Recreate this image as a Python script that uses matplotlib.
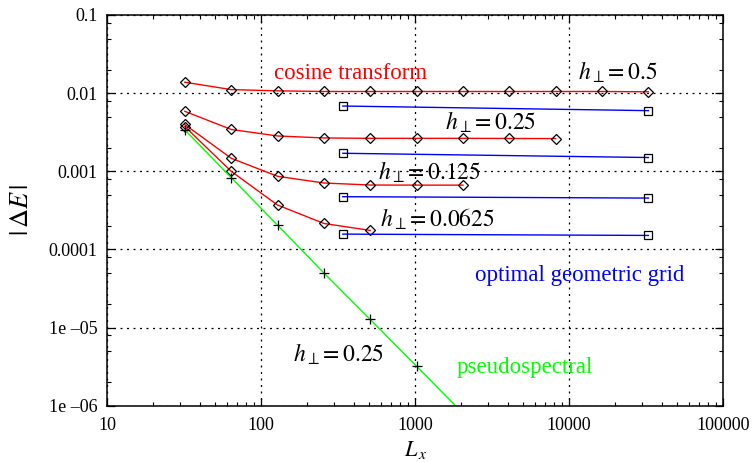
import numpy as np
import matplotlib
matplotlib.use("Agg")
import matplotlib.pyplot as plt
from matplotlib.ticker import FixedLocator, FixedFormatter, LogLocator, NullFormatter

plt.rcParams['font.family'] = ['Liberation Serif', 'DejaVu Serif']
plt.rcParams['mathtext.fontset'] = 'stix'

# ---- data ----
cos_x_05 = [32, 64, 128, 256, 512, 1024, 2048, 4096, 8192, 16384, 32768]
cos_y_05 = [0.0138, 0.0111, 0.0107, 0.0105, 0.0105, 0.0105, 0.0105, 0.0105, 0.0105, 0.0105, 0.0104]

cos_x_025 = [32, 64, 128, 256, 512, 1024, 2048, 4096, 8192]
cos_y_025 = [0.00586, 0.00343, 0.00283, 0.00267, 0.00264, 0.00264, 0.00264, 0.00263, 0.00262]

cos_x_0125 = [32, 64, 128, 256, 512, 1024, 2048]
cos_y_0125 = [0.00397, 0.00147, 0.000863, 0.000708, 0.000667, 0.000665, 0.000665]

cos_x_00625 = [32, 64, 128, 256, 512]
cos_y_00625 = [0.00374, 0.00100, 0.000370, 0.000215, 0.000175]

geo_x = [340, 32768]
geo_y_05 = [0.00684, 0.00597]
geo_y_025 = [0.00170, 0.00150]
geo_y_0125 = [0.000473, 0.000454]
geo_y_00625 = [0.000157, 0.000151]

ps_x = [32, 64, 128, 256, 512, 1024, 2048]
ps_y = [0.0034, 0.00083, 0.000205, 5.0e-5, 1.27e-5, 3.2e-6, 8.0e-7]

x_ticks = [10, 100, 1000, 10000, 100000]
x_ticklabels = ['10', '100', '1000', '10000', '100000']
y_ticks = [1e-6, 1e-5, 1e-4, 1e-3, 1e-2, 1e-1]
y_ticklabels = ['1e \u201306', '1e \u201305', '0.0001', '0.001', '0.01', '0.1']

# ---- figure ----
fig = plt.figure(figsize=(7.53, 4.62), dpi=100)
ax = fig.add_axes([107/753, 1-405.7/462, (723-107)/753, (405.7-15)/462])
ax.set_xscale('log')
ax.set_yscale('log')
ax.set_xlim(10, 100000)
ax.set_ylim(1e-6, 0.1)

red = '#ff0000'
blue = '#0000ff'
green = '#00ff00'

dkw = dict(marker='D', ms=5.6, mfc='none', mec='black', mew=0.9, lw=1.0)
for xs, ys in [(cos_x_05, cos_y_05), (cos_x_025, cos_y_025),
               (cos_x_0125, cos_y_0125), (cos_x_00625, cos_y_00625)]:
    ax.plot(xs, ys, color=red, **dkw)

skw = dict(marker='s', ms=6.0, mfc='none', mec='black', mew=0.9, lw=1.0)
for ys in [geo_y_05, geo_y_025, geo_y_0125, geo_y_00625]:
    ax.plot(geo_x, ys, color=blue, **skw)

ax.plot(ps_x, ps_y, color=green, lw=1.0, marker='+', ms=7, mec='black', mew=0.9)

# ---- ticks / grid ----
ax.xaxis.set_major_locator(FixedLocator(x_ticks))
ax.xaxis.set_major_formatter(FixedFormatter(x_ticklabels))
ax.xaxis.set_minor_locator(LogLocator(base=10, subs=(2, 3, 4, 5, 6, 7, 8, 9)))
ax.xaxis.set_minor_formatter(NullFormatter())
ax.yaxis.set_major_locator(FixedLocator(y_ticks))
ax.yaxis.set_major_formatter(FixedFormatter(y_ticklabels))
ax.yaxis.set_minor_locator(LogLocator(base=10, subs=(2, 5, 8)))
ax.yaxis.set_minor_formatter(NullFormatter())

ax.tick_params(which='both', direction='in', top=True, right=True, color='black')
ax.tick_params(which='major', length=5.5, width=0.9, labelsize=13)
ax.tick_params(which='minor', length=2.8, width=0.8)
ax.tick_params(axis='y', which='major', pad=7)
ax.tick_params(axis='x', which='major', pad=8)
for s in ax.spines.values():
    s.set_linewidth(1.1)

ax.grid(True, which='major', color='black', linestyle=(0, (1.6, 3.6)), linewidth=0.9)

# ---- labels ----
tkw = dict(ha='left', va='baseline')
ax.text(121.4, 0.01517, 'cosine transform', color=red, fontsize=16.5, **tkw)
ax.text(2455, 3.94e-5, 'optimal geometric grid', color=blue, fontsize=16.5, **tkw)
ax.text(1866, 2.62e-6, 'pseudospectral', color=green, fontsize=16.5, **tkw)

ax.text(11480, 0.01473, r'$h_{\perp}\!=0.5$', fontsize=17, **tkw)
ax.text(1567, 0.003444, r'$h_{\perp}\!=0.25$', fontsize=17, **tkw)
ax.text(578, 0.000773, r'$h_{\perp}\!=0.125$', fontsize=17, **tkw)
ax.text(593, 0.0001954, r'$h_{\perp}\!=0.0625$', fontsize=17, **tkw)
ax.text(162, 3.66e-6, r'$h_{\perp}\!=0.25$', fontsize=17, **tkw)

fig.text(22/753, 1-210/462, r'$|\,\Delta E\,|$', rotation=90, fontsize=19,
         ha='center', va='center')
fig.text(416/753, 1-456/462, r'$L_{\,x}$', fontsize=16, ha='center', va='baseline')

fig.savefig('out.png', dpi=100)
